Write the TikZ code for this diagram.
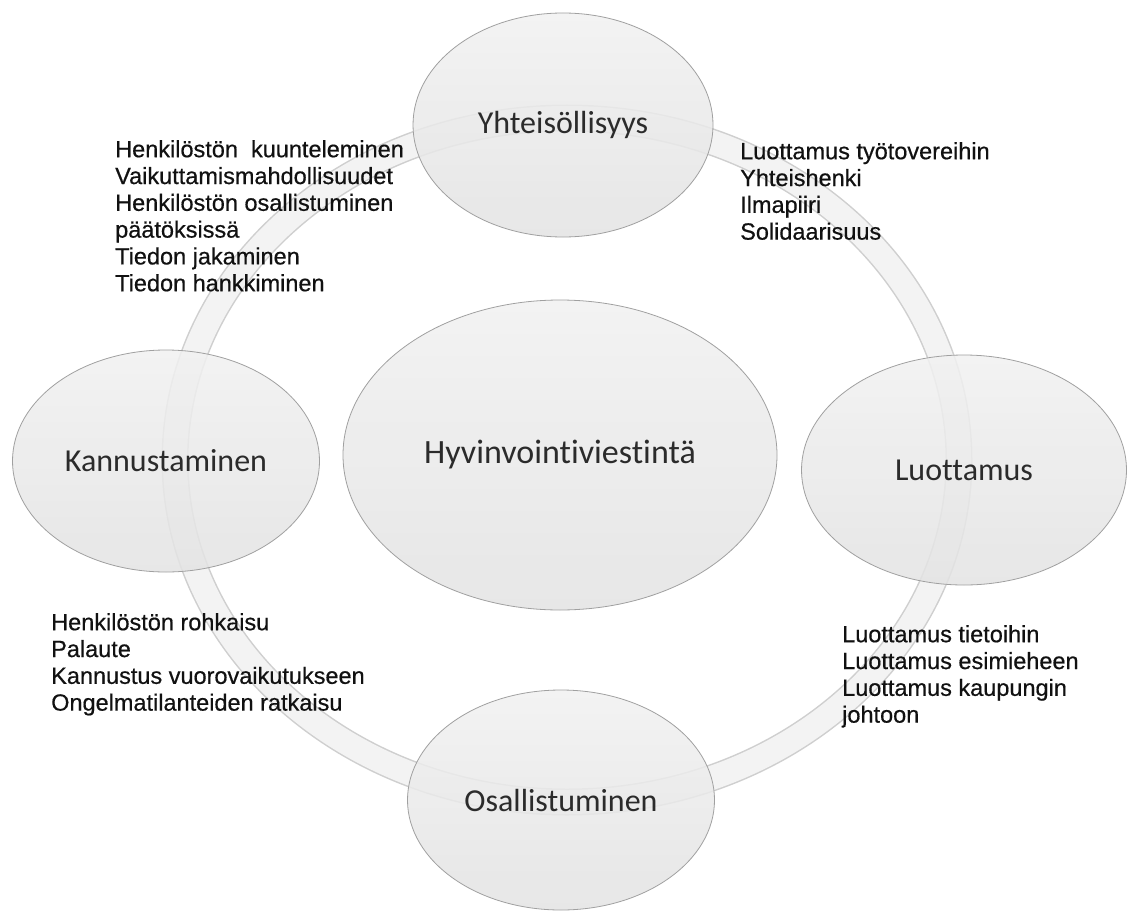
\documentclass[tikz,border=0pt]{standalone}
\usepackage{fontspec}
\setmainfont{Liberation Sans}
\newfontfamily\bubblefont[Ligatures=NoCommon]{Carlito}
\newfontfamily\listfont[BoldFont=Liberation Sans, BoldFeatures={FakeBold=0.5}]{Liberation Sans}
\usepackage{xcolor}
\definecolor{ringEdge}{HTML}{CFCFCF}
\definecolor{ringFill}{HTML}{F3F3F3}
\definecolor{bubbleEdge}{HTML}{A0A0A0}
\definecolor{bubbleTop}{HTML}{F1F1F1}
\definecolor{bubbleBottom}{HTML}{E3E3E3}
\definecolor{labelText}{HTML}{2B2B2B}
\definecolor{darkText}{HTML}{111111}
\usepackage{tikz}
\usetikzlibrary{
    shapes.geometric,
    positioning
}
\tikzset{
    % Ring behind the bubbles
    ring edge/.style={
        draw=ringEdge,
        line width=27pt,
    },
    ring band/.style={
        draw=ringFill,
        line width=24pt,
    },
    % Light grey ellipse bubbles
    bubble/.style={
        ellipse,
        draw=bubbleEdge,
        line width=0.8pt,
        top color=bubbleTop,
        bottom color=bubbleBottom,
        fill opacity=0.85,
        text opacity=1,
        text=labelText,
        inner sep=0pt,
        font=\bubblefont\fontsize{32}{36}\selectfont,
    },
    % Lists of items beside the bubbles
    item list/.style={
        anchor=north west,
        align=left,
        inner sep=0pt,
        text=darkText,
        font=\listfont\bfseries\fontsize{23.5}{26.8}\selectfont,
    },
}

\begin{document}
\begin{tikzpicture}[x=1pt, y=-1pt]
    \useasboundingbox (0,0) rectangle (1131,915);
    \fill[white] (0,0) rectangle (1131,915);

    % ring
    \draw[ring edge] (567,460) ellipse [x radius=392pt, y radius=342pt];
    \draw[ring band] (567,460) ellipse [x radius=392pt, y radius=342pt];

    % bubbles
    \node (yhteis) [bubble, minimum width=300pt, minimum height=224pt] at (563,125) {Yhteisöllisyys};
    \node (kannus) [bubble, minimum width=307pt, minimum height=222pt] at (166,461) {Kannustaminen};
    \node (luott) [bubble, minimum width=325pt, minimum height=230pt] at (964,470) {Luottamus};
    \node (osall) [bubble, minimum width=307pt, minimum height=220pt] at (561,800) {Osallistuminen};
    \node (hyvin) [bubble, minimum width=434pt, minimum height=310pt,
        font=\bubblefont\fontsize{34}{38}\selectfont] at (560,455) {Hyvinvointiviestintä};

    % item lists
    \node (kuuntelu) [item list] at (115,140) {Henkilöstön\ \ kuunteleminen\\Vaikuttamismahdollisuudet\\Henkilöstön osallistuminen\\päätöksissä\\Tiedon jakaminen\\Tiedon hankkiminen};
    \node (henki) [item list] at (740,142) {Luottamus työtovereihin\\Yhteishenki\\Ilmapiiri\\Solidaarisuus};
    \node (rohkaisu) [item list] at (51,613) {Henkilöstön rohkaisu\\Palaute\\Kannustus vuorovaikutukseen\\Ongelmatilanteiden ratkaisu};
    \node (tieto) [item list] at (842,625) {Luottamus tietoihin\\Luottamus esimieheen\\Luottamus kaupungin\\johtoon};
\end{tikzpicture}
\end{document}
